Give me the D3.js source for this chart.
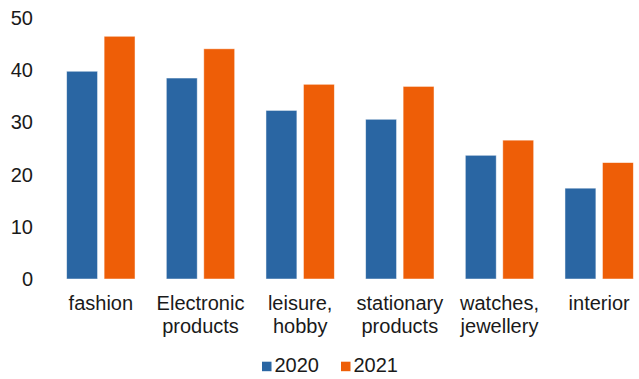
<!DOCTYPE html>
<html>
<head>
<meta charset="utf-8">
<script src="https://cdn.jsdelivr.net/npm/d3@7"></script>
<style>
  body { margin: 0; background: #fff; }
  svg { display: block; font-family: "Liberation Sans", Arial, sans-serif; }
</style>
</head>
<body>
<svg id="chart"></svg>
<script>
// categories and series
const categories = [
  ["fashion"],
  ["Electronic", "products"],
  ["leisure,", "hobby"],
  ["stationary", "products"],
  ["watches,", "jewellery"],
  ["interior"]
];
const seriesNames = ["2020", "2021"];
const values2020 = [39.8, 38.5, 32.3, 30.6, 23.7, 17.4];
const values2021 = [46.5, 44.1, 37.3, 36.9, 26.6, 22.3];
const yTicks = [0, 10, 20, 30, 40, 50];
const colors = ["#2a66a3", "#ee5e07"];

const width = 639, height = 379;
const fontSize = "20px";

const svg = d3.select("#chart")
  .attr("width", width)
  .attr("height", height)
  .attr("viewBox", [0, 0, width, height]);

const catKeys = categories.map(d => d.join(" "));
const data = catKeys.map((k, i) => ({key: k, vals: [values2020[i], values2021[i]]}));

const x0 = d3.scaleBand()
  .domain(catKeys)
  .range([51, 649])
  .paddingInner(0.314)
  .paddingOuter(0.157);

const x1 = d3.scaleBand()
  .domain(seriesNames)
  .range([0, x0.bandwidth()])
  .paddingInner(0.175);

const y = d3.scaleLinear().domain([0, 50]).range([279, 18]);

// y axis labels (no line, no ticks)
const yAxis = svg.append("g")
  .attr("transform", "translate(33,0)")
  .call(d3.axisLeft(y).tickValues(yTicks).tickSize(0).tickPadding(0));
yAxis.select(".domain").remove();
yAxis.attr("font-size", null).attr("font-family", null);
yAxis.selectAll("text")
  .attr("fill", "#1a1a1a")
  .style("font-size", fontSize);

// bars
const groups = svg.append("g")
  .selectAll("g")
  .data(data)
  .join("g")
  .attr("transform", d => `translate(${x0(d.key)},0)`);

groups.selectAll("rect")
  .data(d => d.vals.map((v, i) => ({name: seriesNames[i], value: v, i})))
  .join("rect")
  .attr("x", d => x1(d.name))
  .attr("y", d => y(d.value))
  .attr("width", x1.bandwidth())
  .attr("height", d => y(0) - y(d.value))
  .attr("fill", d => colors[d.i])
  .attr("stroke", "#fff")
  .attr("stroke-opacity", 0.6)
  .attr("stroke-width", 0.8);

// x labels (wrapped)
const xLabels = svg.append("g")
  .attr("text-anchor", "middle")
  .attr("fill", "#1a1a1a")
  .style("font-size", fontSize);

categories.forEach((lines, i) => {
  const cx = x0(catKeys[i]) + x0.bandwidth() / 2;
  const t = xLabels.append("text")
    .attr("x", cx)
    .attr("y", 310);
  lines.forEach((line, j) => {
    t.append("tspan")
      .attr("x", cx)
      .attr("dy", j === 0 ? 0 : 23)
      .text(line);
  });
});

// legend
const legendX = [262, 341];
const legend = svg.append("g")
  .selectAll("g")
  .data(seriesNames)
  .join("g")
  .attr("transform", (d, i) => `translate(${legendX[i]},0)`);

legend.append("rect")
  .attr("x", 0)
  .attr("y", 361.7)
  .attr("width", 9.5)
  .attr("height", 9.5)
  .attr("fill", (d, i) => colors[i]);

legend.append("text")
  .attr("x", 12.5)
  .attr("y", 372.3)
  .attr("fill", "#1a1a1a")
  .style("font-size", fontSize)
  .text(d => d);
</script>
</body>
</html>
